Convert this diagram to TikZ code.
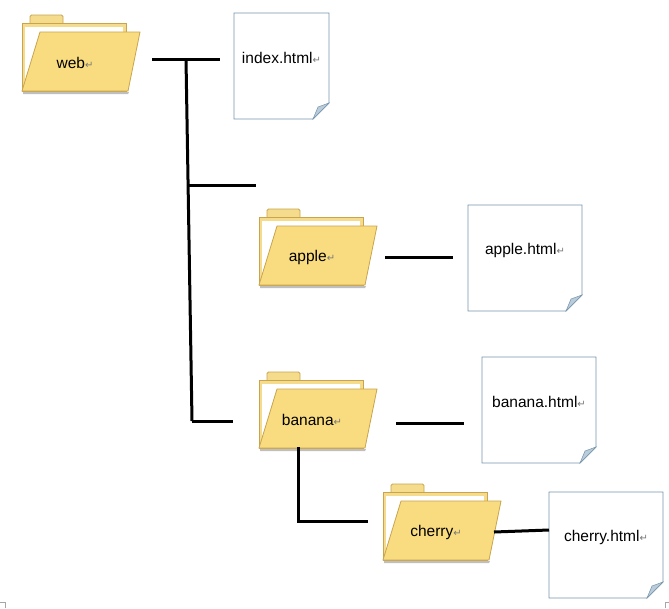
\documentclass[tikz,border=0pt]{standalone}
\usepackage{fontspec}
\setmainfont{Liberation Sans}
\newfontfamily\markfont{DejaVu Sans}

\definecolor{folderfront}{RGB}{249,220,128}
\definecolor{folderedge}{RGB}{200,164,78}
\definecolor{foldertab}{RGB}{245,220,140}
\definecolor{pageedge}{RGB}{118,148,172}
\definecolor{pagefold}{RGB}{186,203,218}
\definecolor{markgray}{RGB}{120,120,120}

% paragraph mark after each label
\newcommand{\retmark}{{\markfont\fontsize{10}{10}\selectfont\color{markgray}↵}}

% folder: name, left, top, label
\newcommand{\dirbox}[4]{%
  \draw[folderback,rounded corners=1.5] (#2+8,#3+9) -- (#2+8,#3) -- (#2+41,#3) -- (#2+41,#3+9);
  \draw[folderback] (#2,#3+8) rectangle (#2+104,#3+76);
  \fill[white] (#2+3,#3+12) rectangle (#2+101,#3+76);
  \fill[black!25] (#2+1,#3+77) -- (#2+107,#3+77) -- (#2+106,#3+79) -- (#2+1,#3+79) -- cycle;
  \draw[folderfrontstyle] (#2+18,#3+17) -- (#2+118,#3+17) -- (#2+106,#3+76) -- (#2,#3+76) -- cycle;
  \node[dirlabel] (#1) at (#2+53,#3+48) {#4\retmark};
}

% html page: name, left, top, width, label
\newcommand{\htmlpage}[5]{%
  \draw[pagestyle] (#2,#3) -- (#2+#4,#3) -- (#2+#4,#3+90) -- (#2+#4-16,#3+106) -- (#2,#3+106) -- cycle;
  \draw[foldstyle] (#2+#4,#3+90) -- (#2+#4-16,#3+106) -- (#2+#4-11,#3+94) -- cycle;
  \node[pagelabel] (#1) at (#2+#4/2,#3+45) {#5\retmark};
}

\begin{document}
\begin{tikzpicture}
  [x=1pt,y=-1pt,
   folderback/.style={draw=folderedge,fill=foldertab,line width=0.8pt},
   folderfrontstyle/.style={draw=folderedge,fill=folderfront,line width=0.8pt},
   pagestyle/.style={draw=pageedge,fill=white,line width=0.8pt},
   foldstyle/.style={draw=pageedge,fill=pagefold,line width=0.5pt},
   dirlabel/.style={inner sep=0pt,font=\fontsize{15.5}{18}\selectfont},
   pagelabel/.style={inner sep=0pt,font=\fontsize{15.5}{18}\selectfont},
   branch/.style={line width=3pt,black}]
  \useasboundingbox (0,0) rectangle (669,608);

  \dirbox{web}{22}{15}{web}
  \dirbox{apple}{259}{209}{apple}
  \dirbox{banana}{259}{372}{banana}
  \dirbox{cherry}{383}{484}{cherry}

  \htmlpage{index}{234}{13}{95}{index.html}
  \htmlpage{applehtml}{468}{205}{114}{apple.html}
  \htmlpage{bananahtml}{482}{357}{114}{banana.html}
  \htmlpage{cherryhtml}{549}{492}{114}{cherry.html}

  \coordinate (webR) at (152,59);
  \coordinate (indexL) at (220,59);
  \coordinate (trunkTop) at (186,59);
  \coordinate (trunkMid) at (188,185);
  \coordinate (midEnd) at (256,185);
  \coordinate (trunkBot) at (192,421);
  \coordinate (bananaL) at (233,421);
  \coordinate (appleR) at (385,257);
  \coordinate (appleH) at (453,257);
  \coordinate (bananaR) at (396,423);
  \coordinate (bananaH) at (464,423);
  \coordinate (bananaB) at (298,447);
  \coordinate (subBot) at (298,521);
  \coordinate (cherryL) at (368,521);
  \coordinate (cherryR) at (494,532);
  \coordinate (cherryH) at (549,530);

  \foreach \from/\to in {webR/indexL,trunkTop/trunkBot,trunkMid/midEnd,
      appleR/appleH,bananaR/bananaH,cherryR/cherryH}
    \draw[branch] (\from) -- (\to);
  \draw[branch] (trunkBot) -- (bananaL);
  \draw[branch] (bananaB) -- (subBot) -- (cherryL);

  % page corner marks
  \draw[gray!70,line width=0.6pt] (0,602) -- (5,602) -- (5,608);
  \draw[gray!70,line width=0.6pt] (669,602) -- (665,602) -- (665,608);
\end{tikzpicture}
\end{document}
